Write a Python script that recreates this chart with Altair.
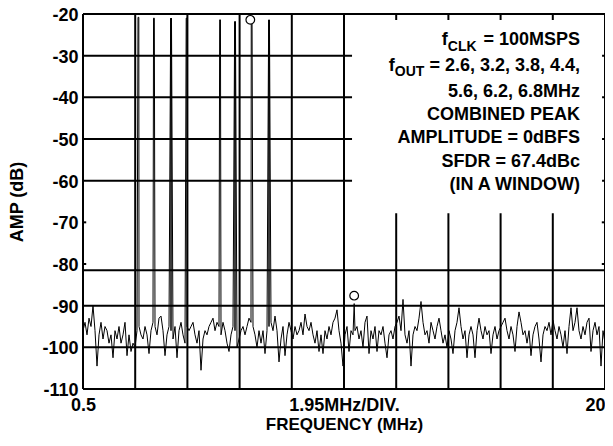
import altair as alt
import numpy as np
import pandas as pd

# ---------------- data ----------------
noise_db = [
    -96, -94, -97, -93, -95, -90, -96, -104.5, -97, -94, -98, -95, -96, -99, -97, -102.5, -96, -98, -95, -99, -97, -94, -102, -97, -101, -99, -100,
    -96, -95, -97, -98, -95, -97, -101.5, -96, -94, -95, -97, -93, -92.5, -96, -102, -97, -95, -96, -98, -95, -102.5, -96, -94, -97, -99, -95, -96,
    -95, -94, -97, -99, -96, -105.5, -98, -96, -97, -95, -94, -93, -96, -94, -95, -97, -94, -96, -99, -101, -97, -95, -96, -100, -98, -96, -95,
    -97, -95, -93, -94, -95, -97, -100, -96, -99, -96, -101.5, -96, -95, -94, -96, -92.5, -96, -103.5, -98, -95, -102, -97, -94, -96, -98, -95, -97,
    -96, -94, -97, -92, -95, -96, -94, -97, -99, -96, -101, -97, -101.5, -96, -98, -95, -97, -94, -93, -91, -96, -99, -104.5, -97, -95, -101, -96,
    -97, -96, -95, -98, -96, -100, -94, -92.5, -101.5, -96, -98, -95, -101, -96, -97, -95, -99, -102.5, -97, -96, -98, -95, -94, -92.5, -96, -88.5, -97,
    -99, -96, -104.5, -97, -95, -96, -93, -89, -94, -97, -96, -99, -94, -96, -98, -95, -93, -96, -99, -97, -100, -96, -98, -101.5, -96, -94, -90.5,
    -95, -98, -96, -102.5, -97, -95, -97, -102.5, -96, -93, -96, -98, -95, -97, -96, -101.5, -97, -95, -98, -96, -95, -94, -93, -96, -98, -95, -97,
    -101, -95, -91.5, -94, -97, -96, -99, -96, -102, -97, -95, -94, -98, -103.5, -97, -95, -96, -94, -97, -93.5, -96, -98, -95, -97, -100, -96, -101.5,
    -95, -90.5, -96, -94, -90.5, -96, -98, -95, -97, -94, -93, -101, -96, -94, -97, -95, -104.5, -96, -99,
]
noise_start_mhz = 0.5
noise_stop_mhz = 20.0

# tones: each drawn as a narrow spike with rising and falling edge
tone_rise_mhz = [2.555, 3.135, 3.775, 4.355, 5.605, 6.165, 6.785, 7.435]
tone_fall_mhz = [2.585, 3.165, 3.805, 4.385, 5.635, 6.195, 6.815, 7.465]
tone_db = [-20.8, -21.0, -21.0, -21.0, -21.4, -21.8, -22.2, -21.4]

spur_mhz = [10.63]
spur_db = [-89.5]

marker_mhz = [6.75, 10.63]
marker_db = [-21.4, -87.6]

x_tick_values = [0.5, 10.25, 20]
x_tick_labels = ["0.5", "1.95MHz/DIV.", "20"]
y_tick_values = [-110, -100, -90, -80, -70, -60, -50, -40, -30, -20]

# frame edges + grid divisions
v_grid_mhz = [0.5, 2.45, 4.4, 6.35, 8.3, 10.25, 12.2, 14.15, 16.1, 18.05, 20]
h_grid_db = [-20, -30, -40, -50, -60, -81.5, -90, -100, -110]
inner_tick_db = [-70, -80]

box_x = [10.55, 19.89]
box_y = [-21.44, -67.8]

# annotation: main text pieces (right aligned), subscripts (left aligned)
ann_text = ["f", "= 100MSPS", "f", "= 2.6, 3.2, 3.8, 4.4,",
            "5.6, 6.2, 6.8MHz", "COMBINED PEAK", "AMPLITUDE = 0dBFS",
            "SFDR = 67.4dBc", "(IN A WINDOW)"]
ann_x = [14.13, 19.07, 12.15, 19.07, 19.07, 19.07, 19.07, 19.07, 19.07]
ann_y = [-26.3, -26.3, -32.5, -32.5, -38.7, -44.2, -49.8, -55.4, -61.0]

sub_text = ["CLK", "OUT"]
sub_x = [14.13, 12.15]
sub_y = [-27.8, -34.0]

FONT = "Liberation Sans"

# ---------------- frames ----------------
noise_f = np.linspace(noise_start_mhz, noise_stop_mhz, len(noise_db))
trace = pd.concat([
    pd.DataFrame({"f": noise_f, "db": noise_db}),
    pd.DataFrame({"f": tone_rise_mhz, "db": tone_db}),
    pd.DataFrame({"f": tone_fall_mhz, "db": tone_db}),
    pd.DataFrame({"f": spur_mhz, "db": spur_db}),
]).sort_values("f").reset_index(drop=True)
trace["order"] = np.arange(len(trace))

xs = alt.Scale(domain=[0.5, 20], nice=False, zero=False)
ys = alt.Scale(domain=[-110, -20], nice=False, zero=False)

label_expr = " : ".join(
    [f"datum.value == {v} ? '{t}'" for v, t in zip(x_tick_values[:-1], x_tick_labels[:-1])]
) + f" : '{x_tick_labels[-1]}'"
align_expr = f"datum.value == {x_tick_values[-1]} ? 'right' : 'center'"

x_axis = alt.Axis(values=x_tick_values, labelExpr=label_expr, labelAlign=alt.expr(align_expr),
                  ticks=False, domain=False, grid=False, labelFontSize=18, labelFontWeight="bold",
                  labelFont=FONT, labelColor="black", labelPadding=7, labelOverlap=False,
                  labelBound=False, labelFlush=False,
                  title="FREQUENCY (MHz)", titleFont=FONT, titleFontSize=17, titleFontWeight="bold",
                  titleColor="black", titleX=261, titleY=35, titleBaseline="middle", titleAlign="center")
y_axis = alt.Axis(values=y_tick_values, labelExpr="'' + datum.value", ticks=False, domain=False, grid=False,
                  labelFontSize=18, labelFontWeight="bold", labelFont=FONT, labelColor="black",
                  labelPadding=5, labelOffset=1.5, labelOverlap=False, labelBound=False, labelFlush=False,
                  title="AMP (dB)", titleFont=FONT, titleFontSize=18, titleFontWeight="bold",
                  titleColor="black", titleX=-66, titleY=187.5, titleAngle=270,
                  titleBaseline="middle", titleAlign="center")

vgrid = alt.Chart(pd.DataFrame({"f": v_grid_mhz})).mark_rule(color="black", strokeWidth=2).encode(
    x=alt.X("f:Q", scale=xs, axis=x_axis))
hgrid = alt.Chart(pd.DataFrame({"db": h_grid_db})).mark_rule(color="black", strokeWidth=2).encode(
    y=alt.Y("db:Q", scale=ys, axis=y_axis))

tick_df = pd.DataFrame({
    "db": inner_tick_db * 2,
    "x0": [0.5] * len(inner_tick_db) + [19.88] * len(inner_tick_db),
    "x1": [0.62] * len(inner_tick_db) + [20.0] * len(inner_tick_db),
})
inner_ticks = alt.Chart(tick_df).mark_rule(color="black", strokeWidth=2).encode(
    x=alt.X("x0:Q", scale=xs), x2="x1:Q", y=alt.Y("db:Q", scale=ys))

box = alt.Chart(pd.DataFrame({"x0": [box_x[0]], "x1": [box_x[1]], "y0": [box_y[0]], "y1": [box_y[1]]})).mark_rect(
    color="white").encode(x=alt.X("x0:Q", scale=xs), x2="x1:Q", y=alt.Y("y0:Q", scale=ys), y2="y1:Q")

line = alt.Chart(trace).mark_line(color="black", strokeWidth=1).encode(
    x=alt.X("f:Q", scale=xs), y=alt.Y("db:Q", scale=ys), order="order:Q")

markers = alt.Chart(pd.DataFrame({"f": marker_mhz, "db": marker_db})).mark_point(
    shape="circle", filled=True, fill="white", stroke="black", strokeWidth=1.2, size=75, opacity=1).encode(
    x=alt.X("f:Q", scale=xs), y=alt.Y("db:Q", scale=ys))

ann = alt.Chart(pd.DataFrame({"f": ann_x, "db": ann_y, "t": ann_text})).mark_text(
    align="right", baseline="middle", font=FONT, fontWeight="bold", fontSize=18, color="black").encode(
    x=alt.X("f:Q", scale=xs), y=alt.Y("db:Q", scale=ys), text="t:N")

sub = alt.Chart(pd.DataFrame({"f": sub_x, "db": sub_y, "t": sub_text})).mark_text(
    align="left", baseline="middle", font=FONT, fontWeight="bold", fontSize=14, color="black").encode(
    x=alt.X("f:Q", scale=xs), y=alt.Y("db:Q", scale=ys), text="t:N")

chart = alt.layer(vgrid, hgrid, inner_ticks, box, line, markers, ann, sub).properties(
    width=522, height=375,
    padding={"left": 75, "top": 6, "right": 0, "bottom": 45},
    autosize=alt.AutoSizeParams(type="none"),
).configure_view(stroke=None)

chart.save("out.html", embed_options={"renderer": "svg", "actions": False})
